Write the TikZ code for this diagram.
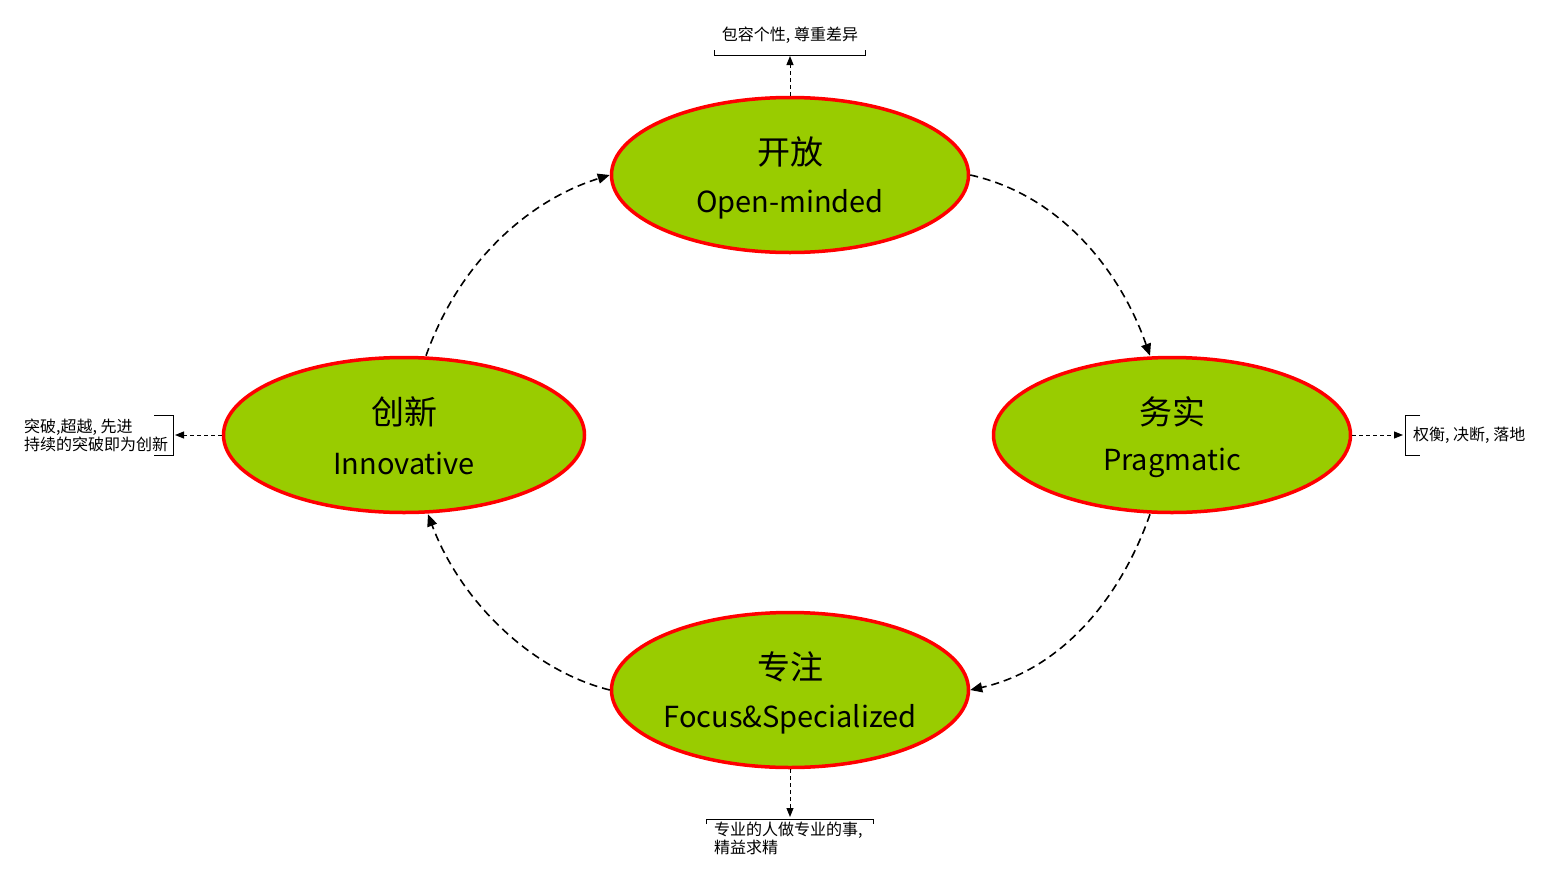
\documentclass[tikz,border=0pt]{standalone}
\usepackage{fontspec}
\setmainfont{Noto Sans CJK SC}
\usetikzlibrary{arrows.meta,calc,shapes.geometric}
\definecolor{leaf}{HTML}{99CC00}
\begin{document}
\begin{tikzpicture}[x=1pt,y=-1pt,
  phase/.style={ellipse,draw=red,line width=3.5pt,fill=leaf,minimum width=357pt,minimum height=155pt,inner sep=0pt},
  cn/.style={font=\fontsize{33}{36}\selectfont,inner sep=0pt},
  en/.style={font=\fontsize{29}{32}\selectfont,inner sep=0pt},
  flow/.style={dash pattern=on 8pt off 5pt,line width=1.6pt,-{Triangle[length=12pt,width=10pt]}},
  notearrow/.style={dash pattern=on 4pt off 3pt,line width=1pt,-{Triangle[length=9pt,width=7pt]}},
  bracket/.style={line width=1pt},
  label/.style={font=\fontsize{16}{18}\selectfont,inner sep=0pt,align=left}
]
\useasboundingbox[fill=white] (0,0) rectangle (1548,873);

% phases
\node[phase] (T) at (790,175) {};
\node[phase,minimum width=361pt] (L) at (404,435) {};
\node[phase] (R) at (1172,435) {};
\node[phase] (B) at (790,690) {};

\node[cn] (Tcn) at ($(T.center)+(0,-23)$) {开放};
\node[en] (Ten) at ($(T.center)+(0,29)$) {Open-minded};
\node[cn] (Lcn) at ($(L.center)+(0,-23)$) {创新};
\node[en] (Len) at ($(L.center)+(0,28)$) {Innovative};
\node[cn] (Rcn) at ($(R.center)+(0,-23)$) {务实};
\node[en] (Ren) at ($(R.center)+(0,28)$) {Pragmatic};
\node[cn] (Bcn) at ($(B.center)+(0,-23)$) {专注};
\node[en] (Ben) at ($(B.center)+(0,29)$) {Focus\&Specialized};

% cycle
\draw[flow] (T.east) .. controls (1060,195) and (1120,270) .. ($(R.north)+(-22,0)$);
\draw[flow] ($(R.south)+(-22,0)$) .. controls (1120,600) and (1060,670) .. (B.east);
\draw[flow] (B.west) .. controls (530,670) and (460,600) .. ($(L.south)+(24,0)$);
\draw[flow] ($(L.north)+(22,0)$) .. controls (460,260) and (530,200) .. (T.west);

% notes
\coordinate (tT) at (790,56);
\draw[notearrow] (T.north) -- (tT);
\draw[bracket] (714,50) -- (714,55) -- (865,55) -- (865,50);
\node[label] (nT) at (790,35) {包容个性, 尊重差异};

\coordinate (tL) at (175,435);
\draw[notearrow] (L.west) -- (tL);
\draw[bracket] (154,415) -- (173,415) -- (173,455) -- (154,455);
\node[label,anchor=west] (nL) at (24,435.5) {突破,超越, 先进\\持续的突破即为创新};

\coordinate (tR) at (1403,435);
\draw[notearrow] (R.east) -- (tR);
\draw[bracket] (1420,415) -- (1405,415) -- (1405,455) -- (1420,455);
\node[label,anchor=west] (nR) at (1413,435) {权衡, 决断, 落地};

\coordinate (tB) at (790,817);
\draw[notearrow] (B.south) -- (tB);
\draw[bracket] (706,824) -- (706,819) -- (873,819) -- (873,824);
\node[label,anchor=west] (nB) at (714,838.5) {专业的人做专业的事,\\精益求精};
\end{tikzpicture}
\end{document}
